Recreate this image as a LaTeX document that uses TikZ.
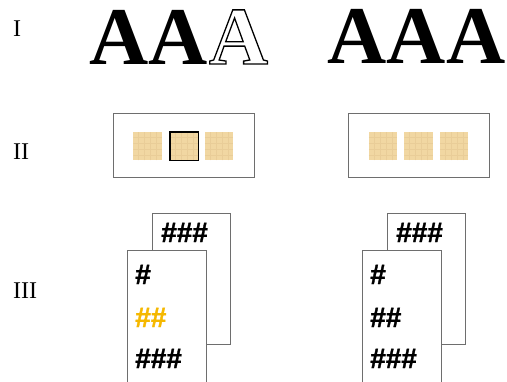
\documentclass[tikz,border=0pt]{standalone}
\usepackage{fontspec}
\setmainfont{Liberation Serif}
\newfontfamily\hashfont[FakeBold=1.3]{Liberation Sans Bold}
\definecolor{tilecol}{RGB}{241,215,162}
\definecolor{tileline}{RGB}{233,205,152}
\definecolor{framecol}{RGB}{110,110,110}
\definecolor{hlcol}{RGB}{245,184,0}
\begin{document}
\begin{tikzpicture}[x=1pt,y=-1pt,
  bigA/.style={font=\fontsize{82}{82}\selectfont\bfseries, inner sep=0pt, anchor=base},
  numeral/.style={font=\fontsize{24}{24}\selectfont, inner sep=0pt, anchor=base west},
  panel/.style={draw=framecol, line width=0.8pt, fill=white, minimum width=141pt, minimum height=64pt, inner sep=0pt},
  tile/.style={fill=tilecol, minimum size=28.5pt, inner sep=0pt,
    path picture={\foreach \k in {5,11,...,28}{
      \draw[tileline, line width=0.3pt] ([xshift=\k pt]path picture bounding box.south west) -- ([xshift=\k pt]path picture bounding box.north west);
      \draw[tileline, line width=0.3pt] ([yshift=\k pt]path picture bounding box.south west) -- ([yshift=\k pt]path picture bounding box.south east);}}},
  seltile/.style={tile, draw=black, line width=1.5pt},
  card/.style={draw=framecol, line width=0.8pt, fill=white, inner sep=0pt},
  hash/.style={font=\hashfont\fontsize{28}{28}\selectfont, inner sep=0pt, anchor=base west}]
\useasboundingbox (0,0) rectangle (507,381);
% Row labels
\node[numeral] (r1) at (13,36) {I};
\node[numeral] (r2) at (13,159) {II};
\node[numeral] (r3) at (13,298) {III};
% Row I
\node[bigA] (a1) at (119,64) {A};
\node[bigA] (a2) at (178.5,64) {A};
\node[bigA] (a3) at (238.5,64) {\special{pdf:literal direct 1 Tr 1.3 w}A\special{pdf:literal direct 0 Tr}};
\node[bigA] (b1) at (357,63) {A};
\node[bigA] (b2) at (416.5,63) {A};
\node[bigA] (b3) at (476,63) {A};
% Row II
\node[panel] (p1) at (183.5,145) {};
\node[panel] (p2) at (418.5,145) {};
\node[tile] (t1) at (147.5,146) {};
\node[seltile] (t2) at (184,146) {};
\node[tile] (t3) at (219,146) {};
\node[tile] (u1) at (383,146) {};
\node[tile] (u2) at (418.5,146) {};
\node[tile] (u3) at (454,146) {};
% Row III left
\node[card, minimum width=78pt, minimum height=131pt] (c1b) at (191,278.5) {};
\node[hash] (h1b) at (161,242) {\#\#\#};
\node[card, minimum width=79pt, minimum height=145pt] (c1f) at (166.5,322.5) {};
\node[hash] (h1a) at (135,284) {\#};
\node[hash, text=hlcol] (h1c) at (135,327) {\#\#};
\node[hash] (h1d) at (135,368) {\#\#\#};
% Row III right
\node[card, minimum width=78pt, minimum height=131pt] (c2b) at (426,278.5) {};
\node[hash] (h2b) at (396,242) {\#\#\#};
\node[card, minimum width=79pt, minimum height=145pt] (c2f) at (401.5,322.5) {};
\node[hash] (h2a) at (370,284) {\#};
\node[hash] (h2c) at (370,327) {\#\#};
\node[hash] (h2d) at (370,368) {\#\#\#};
\end{tikzpicture}
\end{document}
